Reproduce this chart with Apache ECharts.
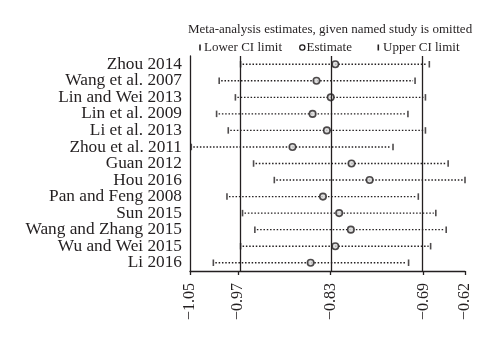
<!DOCTYPE html>
<html>
<head>
<meta charset="utf-8">
<script src="https://cdn.jsdelivr.net/npm/echarts@6/dist/echarts.min.js"></script>
<style>
  html, body { margin: 0; padding: 0; background: #fff; }
  #chart { width: 500px; height: 345px; }
</style>
</head>
<body>
<div id="chart"></div>
<script>
// Leave-one-out sensitivity analysis: pooled estimate and CI with each study omitted
const studies = [
  'Zhou 2014', 'Wang et al. 2007', 'Lin and Wei 2013', 'Lin et al. 2009',
  'Li et al. 2013', 'Zhou et al. 2011', 'Guan 2012', 'Hou 2016',
  'Pan and Feng 2008', 'Sun 2015', 'Wang and Zhang 2015', 'Wu and Wei 2015', 'Li 2016'
];
const lowerCI = [-0.970, -1.003, -0.978, -1.007, -0.989, -1.046, -0.950, -0.918, -0.991, -0.967, -0.948, -0.970, -1.012];
const estimate = [-0.824, -0.853, -0.831, -0.859, -0.837, -0.890, -0.799, -0.771, -0.843, -0.818, -0.800, -0.824, -0.862];
const upperCI = [-0.679, -0.701, -0.685, -0.712, -0.685, -0.735, -0.650, -0.624, -0.696, -0.669, -0.653, -0.677, -0.711];

// Overall pooled lower limit, estimate, upper limit
const refLines = [-0.974, -0.831, -0.688];
// Axis ticks: overall min, pooled CI and estimate, overall max
const axisTicks = [-1.048, -0.974, -0.831, -0.688, -0.624];

const titleText = 'Meta-analysis estimates, given named study is omitted';
const legendLabels = ['Lower CI limit', 'Estimate', 'Upper CI limit'];

const ink = '#231f20';
const serif = '"Liberation Serif", "DejaVu Serif", serif';

const chart = echarts.init(document.getElementById('chart'), null, { renderer: 'canvas' });

const fmt = v => v.toFixed(2).replace('-', '\u2212');

chart.setOption({
  animation: false,
  backgroundColor: '#fff',
  title: {
    text: titleText,
    left: 188,
    top: 23,
    padding: 0,
    textStyle: { fontFamily: serif, fontSize: 13, fontWeight: 'normal', color: ink }
  },
  graphic: [
    { type: 'rect', shape: { x: 199.2, y: 44.5, width: 1.6, height: 6 }, style: { fill: ink } },
    { type: 'text', x: 204, y: 47.5, style: { text: legendLabels[0], font: '13px ' + serif, fill: ink, verticalAlign: 'middle' } },
    { type: 'circle', shape: { cx: 302.3, cy: 47.5, r: 2.6 }, style: { fill: '#fff', stroke: ink, lineWidth: 1.3 } },
    { type: 'text', x: 306.5, y: 47.5, style: { text: legendLabels[1], font: '13px ' + serif, fill: ink, verticalAlign: 'middle' } },
    { type: 'rect', shape: { x: 377.5, y: 44.5, width: 1.6, height: 6 }, style: { fill: ink } },
    { type: 'text', x: 383, y: 47.5, style: { text: legendLabels[2], font: '13px ' + serif, fill: ink, verticalAlign: 'middle' } }
  ],
  grid: { left: 190, right: 35, top: 56, bottom: 74, containLabel: false },
  xAxis: {
    type: 'value',
    min: axisTicks[0],
    max: axisTicks[axisTicks.length - 1],
    axisLine: { show: true, onZero: false, lineStyle: { color: ink, width: 1.3 } },
    axisTick: { show: true, length: 4, customValues: axisTicks, lineStyle: { color: ink, width: 1.3 } },
    axisLabel: {
      customValues: axisTicks,
      rotate: 90,
      margin: 12,
      fontFamily: serif,
      fontSize: 16,
      color: ink,
      formatter: v => fmt(v)
    },
    splitLine: { show: false }
  },
  yAxis: {
    type: 'category',
    data: studies,
    inverse: true,
    axisLine: { show: true, lineStyle: { color: ink, width: 1.3 } },
    axisTick: { show: false },
    axisLabel: { interval: 0, fontFamily: serif, fontSize: 17.3, color: ink, margin: 8 },
    splitLine: { show: false }
  },
  series: [
    {
      name: 'CI',
      type: 'custom',
      coordinateSystem: 'cartesian2d',
      dimensions: ['lower', 'upper', 'row'],
      encode: { x: ['lower', 'upper'], y: 'row' },
      data: studies.map((s, i) => [lowerCI[i], upperCI[i], i]),
      renderItem: (params, api) => {
        const row = api.value(2);
        const a = api.coord([api.value(0), row]);
        const b = api.coord([api.value(1), row]);
        return {
          type: 'line',
          shape: { x1: a[0] + 2, y1: a[1], x2: b[0] - 2, y2: b[1] },
          style: { stroke: ink, lineWidth: 1.4, lineDash: [1.5, 1.8] }
        };
      },
      z: 2
    },
    {
      name: 'Lower CI limit',
      type: 'scatter',
      symbol: 'rect',
      symbolSize: [1.6, 6.5],
      itemStyle: { color: ink },
      data: lowerCI.map((v, i) => [v, i]),
      z: 3
    },
    {
      name: 'Upper CI limit',
      type: 'scatter',
      symbol: 'rect',
      symbolSize: [1.6, 6.5],
      itemStyle: { color: ink },
      data: upperCI.map((v, i) => [v, i]),
      z: 3
    },
    {
      name: 'Estimate',
      type: 'scatter',
      symbol: 'circle',
      symbolSize: 6.5,
      itemStyle: { color: '#d8d8d8', borderColor: ink, borderWidth: 1.6 },
      data: estimate.map((v, i) => [v, i]),
      markLine: {
        silent: true,
        symbol: 'none',
        label: { show: false },
        lineStyle: { type: 'solid', color: ink, width: 1.3 },
        data: refLines.map(v => ({ xAxis: v }))
      },
      z: 4
    }
  ]
});
</script>
</body>
</html>
